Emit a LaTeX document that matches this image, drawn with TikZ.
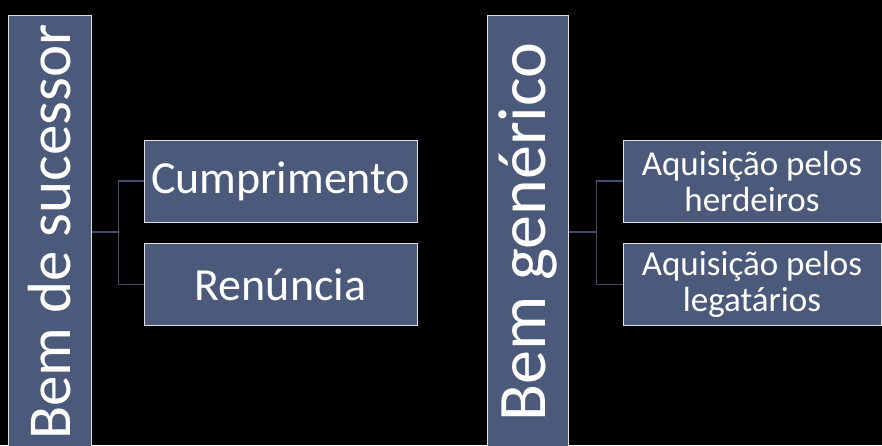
\documentclass[tikz,border=0pt]{standalone}
\usepackage{fontspec}
\setmainfont{Carlito}
\usetikzlibrary{positioning}

\definecolor{boxfill}{HTML}{4B5A7B}
\definecolor{linkline}{HTML}{3F4D6B}

\begin{document}
\begin{tikzpicture}[x=1pt,y=1pt,node distance=231pt,
  bigbox/.style={rectangle,draw=white!88!black,fill=boxfill,text=white,line width=1pt,inner sep=0pt,minimum height=434pt},
  smallbox/.style={rectangle,draw=white!88!black,fill=boxfill,text=white,line width=1pt,inner sep=0pt,align=center,minimum height=82pt},
  link/.style={draw=linkline,line width=1.4pt}]
\useasboundingbox (0,0) rectangle (882,-445);
\fill[black] (0,0) rectangle (882,-445);

\node[bigbox,minimum width=83pt] (suc) at (49.5,-232) {\rotatebox{90}{\fontsize{61}{70}\selectfont Bem de sucessor}};
\node[smallbox,right of = suc,yshift=51pt,minimum width=273pt,font=\fontsize{46}{55}\selectfont] (cump) {Cumprimento};
\node[smallbox,right of = suc,yshift=-52.5pt,minimum width=273pt,font=\fontsize{46}{55}\selectfont] (ren) {Renúncia};

\node[bigbox,right of = suc,xshift=247pt,minimum width=81pt] (gen) {\rotatebox{90}{\fontsize{68}{78}\selectfont Bem genérico}};
\node[smallbox,right of = gen,xshift=-6.5pt,yshift=51pt,minimum width=258pt,font=\fontsize{35}{36}\selectfont] (herd) {Aquisição pelos\\herdeiros};
\node[smallbox,right of = gen,xshift=-6.5pt,yshift=-52.5pt,minimum width=258pt,font=\fontsize{35}{36}\selectfont] (leg) {Aquisição pelos\\legatários};

\draw [link] (suc.east) -- +(27,0) |- (cump.west);
\draw [link] (suc.east) -- +(27,0) |- (ren.west);
\draw [link] (gen.east) -- +(28,0) |- (herd.west);
\draw [link] (gen.east) -- +(28,0) |- (leg.west);

\end{tikzpicture}
\end{document}
